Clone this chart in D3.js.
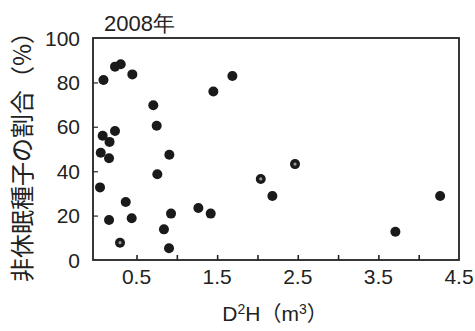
<!DOCTYPE html>
<html><head><meta charset="utf-8">
<script src="https://cdn.jsdelivr.net/npm/d3@7"></script>
<style>
html,body{margin:0;padding:0;background:#fff;}
svg{display:block;}
</style></head>
<body><div id="chart"></div>
<script>
const title = "2008年";
const xValues = [0.09,0.233,0.304,0.448,0.708,0.75,0.233,0.08,0.165,0.056,0.159,0.907,0.758,0.047,0.366,0.159,0.44,0.928,1.267,1.42,0.84,0.295,0.903,1.689,1.453,2.466,2.041,2.185,4.266,3.711];
const yValues = [81.1,87.1,88.2,83.6,69.7,60.5,58.1,56.0,53.2,48.3,45.8,47.4,38.6,32.7,26.1,18.0,18.8,20.9,23.4,20.9,13.8,7.8,5.3,82.9,75.9,43.2,36.5,28.8,28.8,12.7];
const ringed = [21,25,26];
const xTickMarks = [0.5,1.0,1.5,2.0,2.5,3.0,3.5,4.0];
const xTickLabels = ["0.5","1.5","2.5","3.5","4.5"];
const yTickMarks = [20,40,60,80];
const yTickLabels = ["0","20","40","60","80","100"];

const W = 475, H = 331;
const svg = d3.select("#chart").append("svg").attr("width", W).attr("height", H);
const x = d3.scaleLinear().domain([-0.04, 4.5]).range([93, 459]);
const y = d3.scaleLinear().domain([0, 100]).range([260, 38]);
const latin = "'Liberation Sans', Arial, sans-serif";
const cjk = "'Noto Sans CJK JP', sans-serif";

// ticks (inward)
const xAxis = d3.axisTop(x).tickValues(xTickMarks).tickSize(5).tickFormat("");
const gx = svg.append("g").attr("transform", `translate(0,${y(0)})`).call(xAxis);
gx.select(".domain").remove();
gx.selectAll(".tick line").attr("stroke", "#222").attr("stroke-width", 1.6);

const yAxis = d3.axisRight(y).tickValues(yTickMarks).tickSize(5).tickFormat("");
const gy = svg.append("g").attr("transform", `translate(${x.range()[0]},0)`).call(yAxis);
gy.select(".domain").remove();
gy.selectAll(".tick line").attr("stroke", "#444").attr("stroke-width", 1.4);

// frame
svg.append("rect")
  .attr("x", x.range()[0]).attr("y", y.range()[1])
  .attr("width", x.range()[1]-x.range()[0]).attr("height", y.range()[0]-y.range()[1])
  .attr("fill", "none").attr("stroke", "#222").attr("stroke-width", 1.8);

// tick labels
svg.append("g").selectAll("text").data(xTickLabels).join("text")
  .attr("x", d => x(+d)).attr("y", 284)
  .attr("text-anchor", "middle")
  .style("font-family", latin).style("font-size", "21px").attr("fill", "#222")
  .text(d => d);
svg.append("g").selectAll("text").data(yTickLabels).join("text")
  .attr("x", 80).attr("y", d => y(+d)).attr("dy", "0.36em")
  .attr("text-anchor", "end")
  .style("font-family", latin).style("font-size", "21px").attr("fill", "#222")
  .text(d => d);

// title
svg.append("text").attr("x", 104).attr("y", 31)
  .style("font-family", latin).style("font-size", "22px").attr("fill", "#222")
  .text(title);

// x label
const xl = svg.append("text").attr("x", 275).attr("y", 321).attr("text-anchor", "middle")
  .style("font-family", latin).style("font-size", "21px").attr("fill", "#222");
xl.append("tspan").text("D");
xl.append("tspan").attr("dy", -7).style("font-size", "14px").text("2");
xl.append("tspan").attr("dy", 7).text("H");
xl.append("tspan").style("font-family", cjk).text("（");
xl.append("tspan").text("m");
xl.append("tspan").attr("dy", -7).style("font-size", "14px").text("3");
xl.append("tspan").attr("dy", 7).style("font-family", cjk).text("）");

// y label
svg.append("text").attr("transform", "translate(31,151) rotate(-90)")
  .attr("text-anchor", "middle")
  .style("font-family", cjk).style("font-size", "24px").attr("fill", "#222")
  .text("非休眠種子の割合（%）");

// points
const pts = d3.range(xValues.length);
svg.append("g").selectAll("circle").data(pts).join("circle")
  .attr("cx", i => x(xValues[i])).attr("cy", i => y(yValues[i]))
  .attr("r", 5).attr("fill", "#1a1a1a");
svg.append("g").selectAll("circle").data(ringed).join("circle")
  .attr("cx", i => x(xValues[i])).attr("cy", i => y(yValues[i]))
  .attr("r", 1.6).attr("fill", "#999");
</script></body></html>
